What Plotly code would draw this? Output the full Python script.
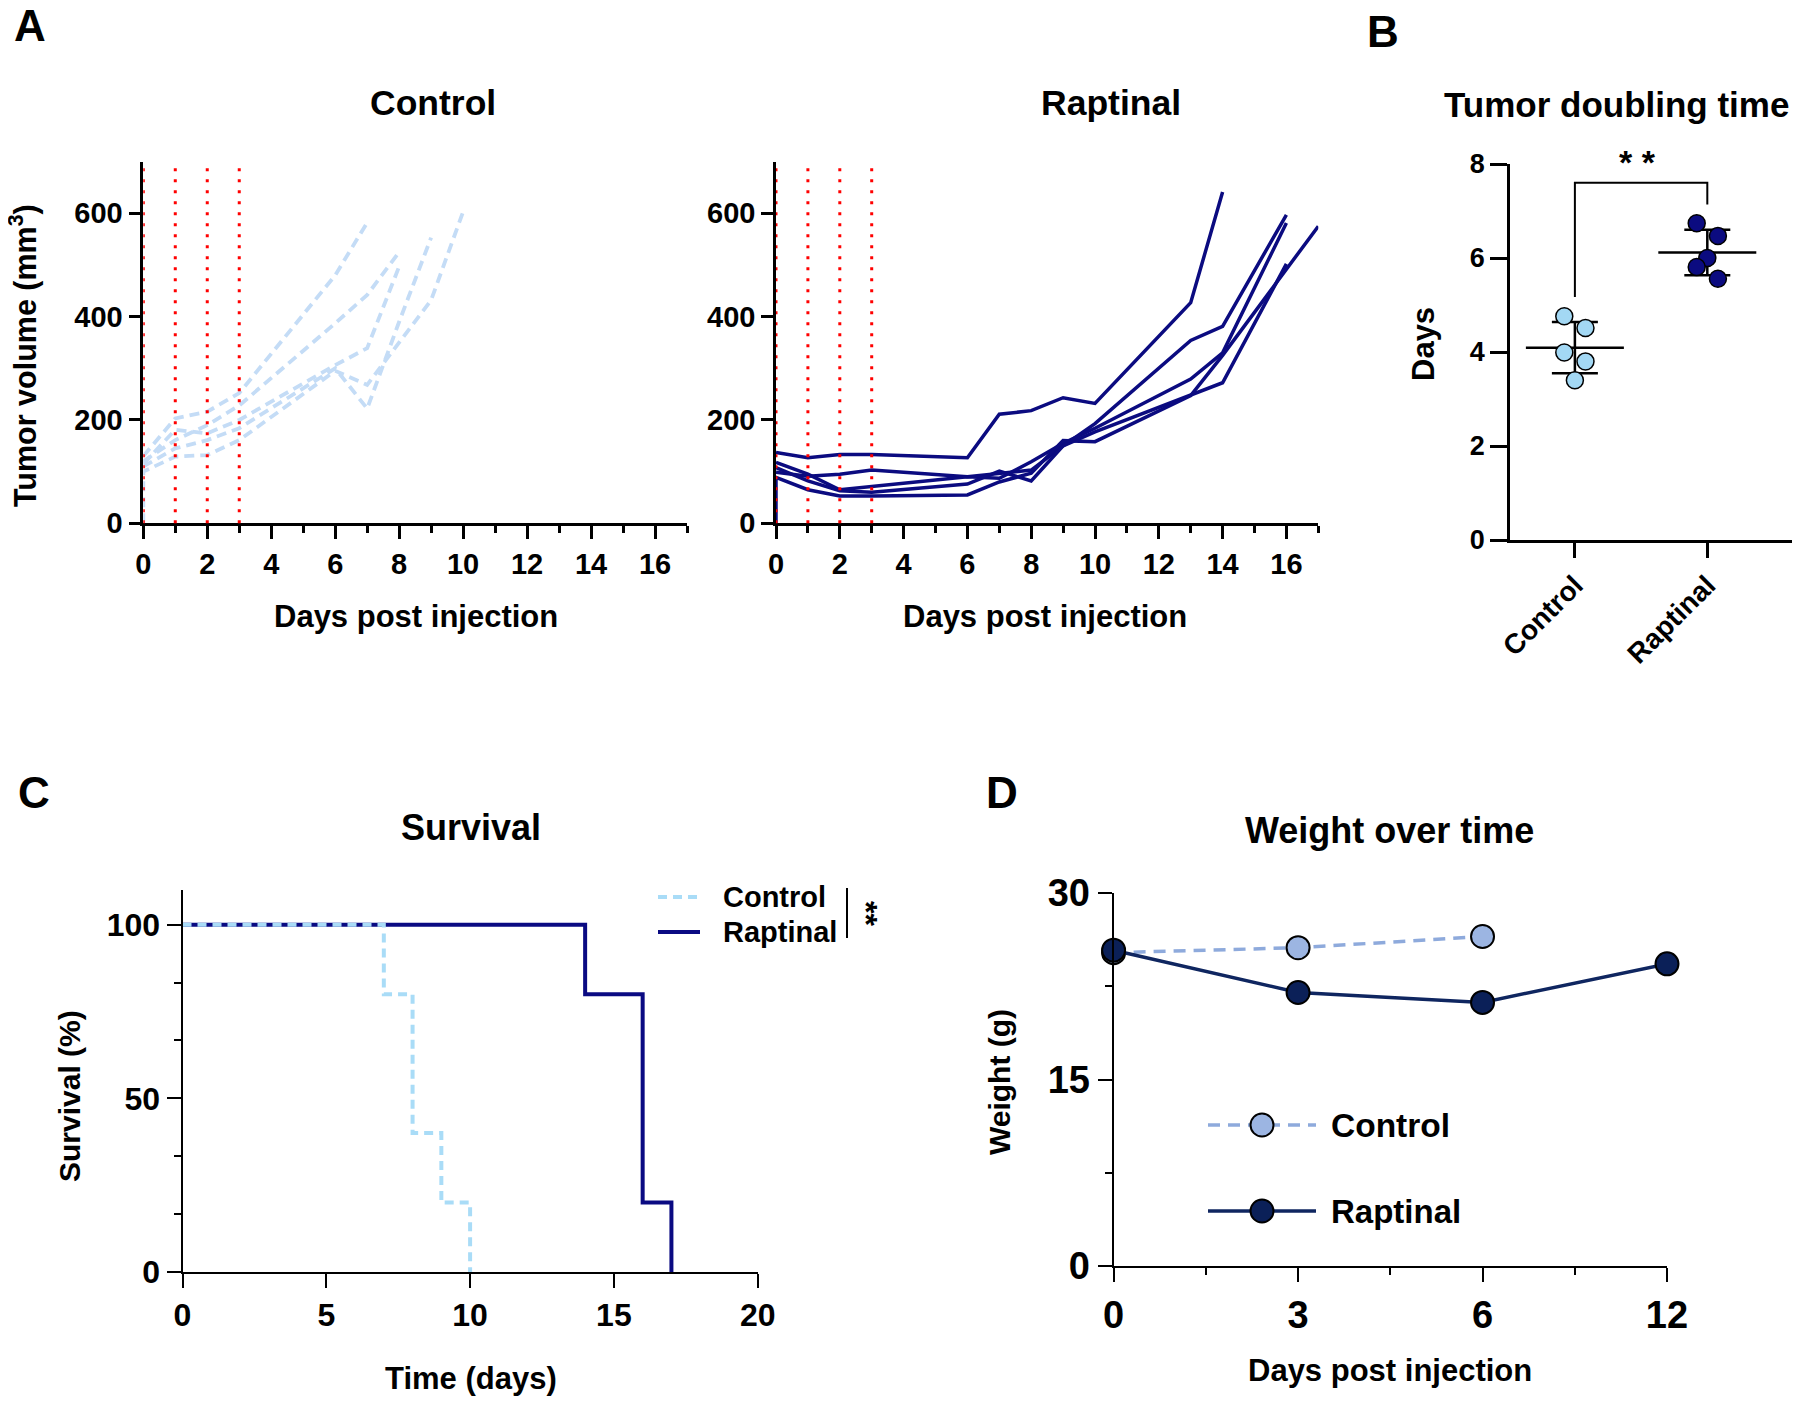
import numpy as np
import plotly.graph_objects as go

W, H = 1800, 1401
OFF = 8  # default body margin of the html page
FW, FH = W - OFF, H - OFF

##### Data #####

# Panel A - tumour volume (mm3) per mouse
ctrl_days = [
    [0, 1, 2, 3, 6, 7],
    [0, 1, 2, 3, 6, 7, 8],
    [0, 1, 2, 3, 6, 7, 8],
    [0, 1, 2, 3, 6, 7, 8, 9],
    [0, 0, 1, 2, 3, 6, 7, 8, 9, 10],
]
ctrl_vol = [
    [130, 203, 216, 252, 480, 582],
    [120, 161, 190, 228, 387, 442, 525],
    [115, 181, 174, 200, 306, 339, 497],
    [110, 145, 161, 184, 300, 222, 390, 553],
    [0, 100, 129, 132, 161, 295, 268, 350, 432, 603],
]
rap_days = [
    [0, 1, 2, 3, 6, 7, 8, 9, 10, 13, 14],
    [0, 1, 2, 3, 6, 7, 8, 9, 10, 13, 14, 16],
    [0, 1, 2, 3, 6, 7, 8, 9, 10, 13, 14, 16],
    [0, 1, 2, 3, 6, 7, 8, 9, 10, 13, 14, 16],
    [0, 0, 1, 2, 3, 6, 7, 8, 9, 10, 13, 14, 17],
]
rap_vol = [
    [137, 127, 133, 133, 127, 211, 218, 243, 232, 427, 641],
    [99, 91, 95, 103, 90, 97, 103, 150, 193, 354, 381, 597],
    [118, 95, 65, 71, 90, 87, 119, 155, 184, 279, 330, 581],
    [108, 82, 63, 60, 76, 101, 82, 150, 177, 247, 272, 502],
    [0, 89, 65, 53, 53, 55, 80, 97, 160, 158, 247, 325, 575],
]
treatment_days = [0, 1, 2, 3]

# Panel B - doubling time (days)
groups = ["Control", "Raptinal"]
dt_ctrl = [4.76, 4.51, 3.99, 3.80, 3.40]
dt_rap = [6.74, 6.47, 6.00, 5.81, 5.56]
jitter = [-0.08, 0.08, -0.08, 0.08, 0.0]
jitter_rap = [-0.08, 0.08, 0.0, -0.08, 0.08]

# Panel C - survival
surv_ctrl_t = [0, 7, 8, 9, 10]
surv_ctrl = [100, 80, 40, 20, 0]
surv_rap_t = [0, 14, 16, 17]
surv_rap = [100, 80, 20, 0]

# Panel D - weight (g)
wt_days = ["0", "3", "6", "12"]
wt_ctrl = [25.2, 25.6, 26.5]
wt_rap = [25.4, 22.0, 21.2, 24.3]

##### Style #####

ARIAL = "Liberation Sans, Arial, sans-serif"
LIGHT = "#c4dcf6"
NAVY = "#0b0b80"
C_LIGHT = "#a9dcf7"
D_LIGHT_LINE = "#8eaadc"
D_LIGHT_MK = "#9cb5e2"
D_NAVY = "#0f2660"


def xdom(a, b):
    return [(a - OFF) / FW, min((b - OFF) / FW, 1)]


def ydom(top, bottom):
    return [1 - (bottom - OFF) / FH, 1 - (top - OFF) / FH]


def px(x, y):
    return (x - OFF) / FW, 1 - (y - OFF) / FH


def axis_style(size, **kw):
    d = dict(showline=True, linecolor="black", linewidth=2.5, ticks="outside",
             tickwidth=2.5, tickcolor="black", showgrid=False, zeroline=False, automargin=False,
             tickfont=dict(family=ARIAL, size=size, color="black", weight="bold"))
    d.update(kw)
    return d


fig = go.Figure()

# Panel A traces
for d, v in zip(ctrl_days, ctrl_vol):
    fig.add_trace(go.Scatter(x=d, y=v, mode="lines", xaxis="x", yaxis="y",
                             line=dict(color=LIGHT, width=3.8, dash="10px,6px"),
                             showlegend=False))
for d, v in zip(rap_days, rap_vol):
    fig.add_trace(go.Scatter(x=d, y=v, mode="lines", xaxis="x2", yaxis="y2",
                             line=dict(color=NAVY, width=3.5), showlegend=False))

for xr in ["x", "x2"]:
    yr = "y" if xr == "x" else "y2"
    for d in treatment_days:
        fig.add_shape(type="line", xref=xr, yref=yr + " domain", x0=d, x1=d, y0=0, y1=1,
                      line=dict(color="red", width=3, dash="3px,8px"), layer="above")

# Panel B traces
for i, (vals, jit, col) in enumerate([(dt_ctrl, jitter, "#a3d8f4"), (dt_rap, jitter_rap, NAVY)]):
    m = float(np.mean(vals))
    sd = float(np.std(vals, ddof=1))
    fig.add_trace(go.Scatter(x=[i - 0.37, i + 0.37], y=[m, m], mode="lines", xaxis="x3", yaxis="y3",
                             line=dict(color="black", width=2.5), showlegend=False))
    fig.add_trace(go.Scatter(x=[i], y=[m], mode="markers", xaxis="x3", yaxis="y3",
                             marker=dict(size=1, color="black"),
                             error_y=dict(type="constant", value=sd, color="black", thickness=2.5, width=23),
                             showlegend=False))
    fig.add_trace(go.Scatter(x=[i + j for j in jit], y=vals, mode="markers", xaxis="x3", yaxis="y3",
                             marker=dict(size=17, color=col, line=dict(color="black", width=1.5)),
                             showlegend=False, cliponaxis=False))

# significance bracket B
fig.add_shape(type="path", xref="x3", yref="y3",
              path="M0,5.17 L0,7.6 L1,7.6 L1,7.14", line=dict(color="black", width=2))

# Panel C traces
fig.add_trace(go.Scatter(x=surv_rap_t, y=surv_rap, mode="lines", line_shape="hv", xaxis="x4", yaxis="y4",
                         line=dict(color="#0a0a82", width=4), showlegend=False, cliponaxis=False))
fig.add_trace(go.Scatter(x=surv_ctrl_t, y=surv_ctrl, mode="lines", line_shape="hv", xaxis="x4", yaxis="y4",
                         line=dict(color=C_LIGHT, width=4, dash="9px,6px"), showlegend=False, cliponaxis=False))

# Panel D traces
wt_x = list(range(len(wt_days)))
fig.add_trace(go.Scatter(x=wt_x[:len(wt_ctrl)], y=wt_ctrl, mode="lines+markers", xaxis="x5", yaxis="y5",
                         line=dict(color=D_LIGHT_LINE, width=3.5, dash="12px,8px"),
                         marker=dict(size=23, color=D_LIGHT_MK, line=dict(color="black", width=2)),
                         showlegend=False, cliponaxis=False))
fig.add_trace(go.Scatter(x=wt_x, y=wt_rap, mode="lines+markers", xaxis="x5", yaxis="y5",
                         line=dict(color=D_NAVY, width=3.5),
                         marker=dict(size=23, color="#0b2058", line=dict(color="black", width=2)),
                         showlegend=False, cliponaxis=False))

##### Layout #####

fig.update_layout(
    width=FW, height=FH, margin=dict(l=0, r=0, t=0, b=0, autoexpand=False),
    plot_bgcolor="white", paper_bgcolor="white",
    font=dict(family=ARIAL, color="black"),
    xaxis=axis_style(29, domain=xdom(143.3, 687), range=[0, 17], anchor="y",
                     tickvals=list(range(0, 17, 2)), ticklen=13,
                     minor=dict(ticks="outside", dtick=1, ticklen=7, tickwidth=2.5, tickcolor="black")),
    yaxis=axis_style(29, domain=ydom(161.6, 523.3), range=[0, 700], anchor="x",
                     tickvals=[0, 200, 400, 600], ticklen=12),
    xaxis2=axis_style(29, domain=xdom(776, 1318.3), range=[0, 17], anchor="y2",
                      tickvals=list(range(0, 17, 2)), ticklen=13,
                      minor=dict(ticks="outside", dtick=1, ticklen=7, tickwidth=2.5, tickcolor="black")),
    yaxis2=axis_style(29, domain=ydom(161.6, 523.3), range=[0, 700], anchor="x2",
                      tickvals=[0, 200, 400, 600], ticklen=12),
    xaxis3=axis_style(28, domain=xdom(1510, 1800), range=[-0.49, 1.70], anchor="y3",
                      tickvals=[0, 1], ticktext=groups, tickangle=-45, ticklen=15),
    yaxis3=axis_style(27, domain=ydom(164, 540), range=[0, 8], anchor="x3",
                      tickvals=[0, 2, 4, 6, 8], ticklen=17),
    xaxis4=axis_style(32, domain=xdom(182.5, 757.7), range=[0, 20], anchor="y4",
                      tickvals=[0, 5, 10, 15, 20], ticklen=14, linewidth=2, tickwidth=2),
    yaxis4=axis_style(32, domain=ydom(890, 1272), range=[0, 110], anchor="x4",
                      tickvals=[0, 50, 100], ticklen=14, linewidth=2, tickwidth=2,
                      minor=dict(ticks="outside", dtick=50 / 3, ticklen=7, tickwidth=2, tickcolor="black")),
    xaxis5=axis_style(38, domain=xdom(1113.6, 1667), range=[0, 3], anchor="y5",
                      tickvals=wt_x, ticktext=wt_days, ticklen=14, linewidth=2, tickwidth=2,
                      minor=dict(ticks="outside", dtick=0.5, ticklen=7, tickwidth=2, tickcolor="black")),
    yaxis5=axis_style(38, domain=ydom(893, 1266), range=[0, 30], anchor="x5",
                      tickvals=[0, 15, 30], ticklen=14, linewidth=2, tickwidth=2,
                      minor=dict(ticks="outside", dtick=7.5, ticklen=7, tickwidth=2, tickcolor="black")),
)


def label(text, x, y, size, angle=0, xanchor="center"):
    ax, ay = px(x, y)
    fig.add_annotation(x=ax, y=ay, xref="paper", yref="paper", text=text, showarrow=False,
                       textangle=angle, xanchor=xanchor, yanchor="middle",
                       font=dict(family=ARIAL, size=size, color="black", weight="bold"))


def hline(x0, x1, y, **line):
    a0, b0 = px(x0, y)
    a1, _ = px(x1, y)
    fig.add_shape(type="line", xref="paper", yref="paper", x0=a0, x1=a1, y0=b0, y1=b0, line=line)


# panel letters
label("A", 30, 26, 44)
label("B", 1383, 31, 44)
label("C", 34, 792, 44)
label("D", 1002, 792, 44)

# panel A text
label("Control", 433, 103, 35.5)
label("Raptinal", 1111, 103, 35.5)
label("Days post injection", 416, 616, 31)
label("Days post injection", 1045, 616, 31)
label("Tumor volume (mm<sup>3</sup>)", 23, 356, 30.5, angle=-90)

# panel B text
label("Tumor doubling time", 1616, 104, 35)
label("Days", 1424, 344, 31, angle=-90)
label("* *", 1637, 162, 34)

# panel C text
label("Survival", 471, 827, 36)
label("Time (days)", 471, 1378, 31)
label("Survival (%)", 69, 1096, 30, angle=-90)

# panel C legend
hline(658, 700, 897, color=C_LIGHT, width=4, dash="9px,6px")
hline(658, 700, 932, color="#0a0a82", width=4)
label("Control", 721, 897, 29, xanchor="left")
label("Raptinal", 721, 932, 29, xanchor="left")
bx, by0 = px(847, 888)
_, by1 = px(847, 938)
fig.add_shape(type="line", xref="paper", yref="paper", x0=bx, x1=bx, y0=by0, y1=by1,
              line=dict(color="black", width=2))
label("**", 866, 913, 32, angle=90)

# panel D text
label("Weight over time", 1389, 830, 36)
label("Days post injection", 1390, 1370, 31)
label("Weight (g)", 999, 1082, 30, angle=-90)

# panel D legend
for yy, lc, mc, dash in [(1125, D_LIGHT_LINE, D_LIGHT_MK, "12px,8px"), (1211, D_NAVY, "#0b2058", "solid")]:
    hline(1208, 1316, yy, color=lc, width=3.5, dash=dash)
    cx0, cy0 = px(1262 - 11.5, yy + 11.5)
    cx1, cy1 = px(1262 + 11.5, yy - 11.5)
    fig.add_shape(type="circle", xref="paper", yref="paper", x0=cx0, x1=cx1, y0=cy0, y1=cy1,
                  fillcolor=mc, line=dict(color="black", width=2))
label("Control", 1329, 1125, 33.5, xanchor="left")
label("Raptinal", 1329, 1211, 33, xanchor="left")

fig.write_html("out.html")
